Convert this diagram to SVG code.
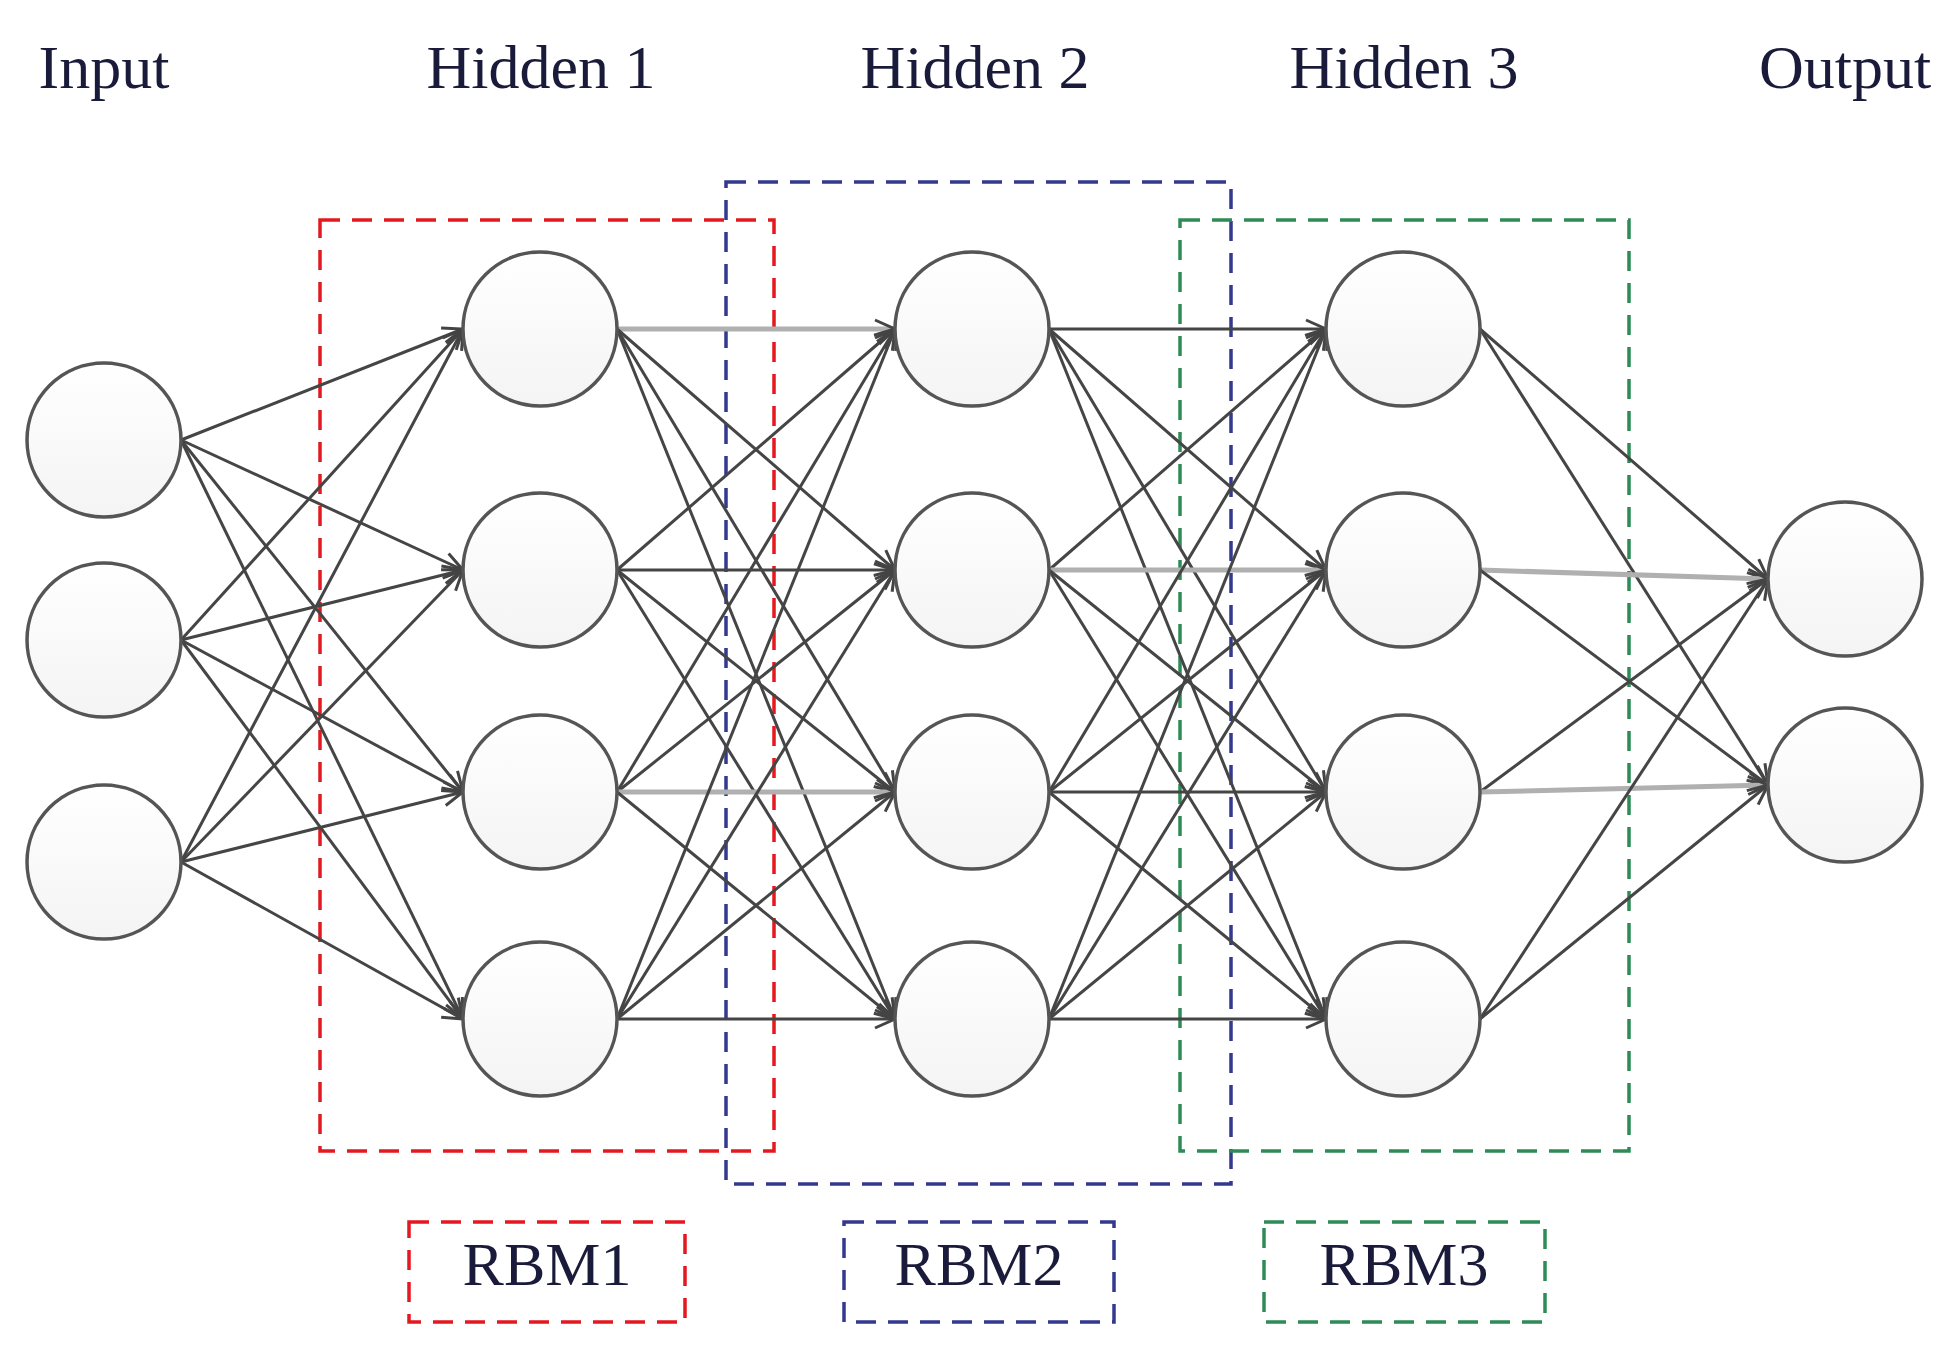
<svg xmlns="http://www.w3.org/2000/svg" width="1959" height="1345" viewBox="0 0 1959 1345">
<defs>
<linearGradient id="g" x1="0" y1="0" x2="0" y2="1"><stop offset="0" stop-color="#ffffff"/><stop offset="1" stop-color="#f4f4f4"/></linearGradient>
<marker id="a" markerUnits="userSpaceOnUse" markerWidth="24" markerHeight="24" viewBox="0 0 24 24" refX="22" refY="12" orient="auto"><path d="M2,3 L22,12 L2,21" fill="none" stroke="#444" stroke-width="3"/></marker>
</defs>
<style>
.n{fill:url(#g);stroke:#555;stroke-width:3.5}
.e{stroke:#454545;stroke-width:3;fill:none;marker-end:url(#a)}
.l{stroke:#b0b0b0;stroke-width:5}
.t{font-family:"Liberation Serif",serif;font-size:62px;fill:#1a1a3a;text-anchor:middle}
.b{fill:none;stroke-width:3.5;stroke-dasharray:20 12}
</style>
<rect width="1959" height="1345" fill="#fff"/>
<g id="labels">
<text class="t" x="104" y="88">Input</text>
<text class="t" x="541" y="88">Hidden 1</text>
<text class="t" x="975" y="88">Hidden 2</text>
<text class="t" x="1404" y="88">Hidden 3</text>
<text class="t" x="1845" y="88">Output</text>
</g>
<g id="rbm-boxes">
<rect class="b" x="320" y="220" width="454" height="931" stroke="#e3191f"/>
<rect class="b" x="726" y="182" width="505" height="1002" stroke="#33398f"/>
<rect class="b" x="1180" y="220" width="449" height="931" stroke="#2e8b57"/>
</g>
<g id="connectors">
<line class="e" x1="181" y1="440" x2="463" y2="329"/>
<line class="e" x1="181" y1="440" x2="463" y2="570"/>
<line class="e" x1="181" y1="440" x2="463" y2="792"/>
<line class="e" x1="181" y1="440" x2="463" y2="1019"/>
<line class="e" x1="181" y1="640" x2="463" y2="329"/>
<line class="e" x1="181" y1="640" x2="463" y2="570"/>
<line class="e" x1="181" y1="640" x2="463" y2="792"/>
<line class="e" x1="181" y1="640" x2="463" y2="1019"/>
<line class="e" x1="181" y1="862" x2="463" y2="329"/>
<line class="e" x1="181" y1="862" x2="463" y2="570"/>
<line class="e" x1="181" y1="862" x2="463" y2="792"/>
<line class="e" x1="181" y1="862" x2="463" y2="1019"/>
<line class="e l" x1="617" y1="329" x2="895" y2="329"/>
<line class="e" x1="617" y1="329" x2="895" y2="570"/>
<line class="e" x1="617" y1="329" x2="895" y2="792"/>
<line class="e" x1="617" y1="329" x2="895" y2="1019"/>
<line class="e" x1="617" y1="570" x2="895" y2="329"/>
<line class="e" x1="617" y1="570" x2="895" y2="570"/>
<line class="e" x1="617" y1="570" x2="895" y2="792"/>
<line class="e" x1="617" y1="570" x2="895" y2="1019"/>
<line class="e" x1="617" y1="792" x2="895" y2="329"/>
<line class="e" x1="617" y1="792" x2="895" y2="570"/>
<line class="e l" x1="617" y1="792" x2="895" y2="792"/>
<line class="e" x1="617" y1="792" x2="895" y2="1019"/>
<line class="e" x1="617" y1="1019" x2="895" y2="329"/>
<line class="e" x1="617" y1="1019" x2="895" y2="570"/>
<line class="e" x1="617" y1="1019" x2="895" y2="792"/>
<line class="e" x1="617" y1="1019" x2="895" y2="1019"/>
<line class="e" x1="1049" y1="329" x2="1326" y2="329"/>
<line class="e" x1="1049" y1="329" x2="1326" y2="570"/>
<line class="e" x1="1049" y1="329" x2="1326" y2="792"/>
<line class="e" x1="1049" y1="329" x2="1326" y2="1019"/>
<line class="e" x1="1049" y1="570" x2="1326" y2="329"/>
<line class="e l" x1="1049" y1="570" x2="1326" y2="570"/>
<line class="e" x1="1049" y1="570" x2="1326" y2="792"/>
<line class="e" x1="1049" y1="570" x2="1326" y2="1019"/>
<line class="e" x1="1049" y1="792" x2="1326" y2="329"/>
<line class="e" x1="1049" y1="792" x2="1326" y2="570"/>
<line class="e" x1="1049" y1="792" x2="1326" y2="792"/>
<line class="e" x1="1049" y1="792" x2="1326" y2="1019"/>
<line class="e" x1="1049" y1="1019" x2="1326" y2="329"/>
<line class="e" x1="1049" y1="1019" x2="1326" y2="570"/>
<line class="e" x1="1049" y1="1019" x2="1326" y2="792"/>
<line class="e" x1="1049" y1="1019" x2="1326" y2="1019"/>
<line class="e" x1="1480" y1="329" x2="1768" y2="579"/>
<line class="e" x1="1480" y1="329" x2="1768" y2="785"/>
<line class="e l" x1="1480" y1="570" x2="1768" y2="579"/>
<line class="e" x1="1480" y1="570" x2="1768" y2="785"/>
<line class="e" x1="1480" y1="792" x2="1768" y2="579"/>
<line class="e l" x1="1480" y1="792" x2="1768" y2="785"/>
<line class="e" x1="1480" y1="1019" x2="1768" y2="579"/>
<line class="e" x1="1480" y1="1019" x2="1768" y2="785"/>
</g>
<g id="in1"><circle class="n" cx="104" cy="440" r="77"/></g>
<g id="in2"><circle class="n" cx="104" cy="640" r="77"/></g>
<g id="in3"><circle class="n" cx="104" cy="862" r="77"/></g>
<g id="h1n1"><circle class="n" cx="540" cy="329" r="77"/></g>
<g id="h1n2"><circle class="n" cx="540" cy="570" r="77"/></g>
<g id="h1n3"><circle class="n" cx="540" cy="792" r="77"/></g>
<g id="h1n4"><circle class="n" cx="540" cy="1019" r="77"/></g>
<g id="h2n1"><circle class="n" cx="972" cy="329" r="77"/></g>
<g id="h2n2"><circle class="n" cx="972" cy="570" r="77"/></g>
<g id="h2n3"><circle class="n" cx="972" cy="792" r="77"/></g>
<g id="h2n4"><circle class="n" cx="972" cy="1019" r="77"/></g>
<g id="h3n1"><circle class="n" cx="1403" cy="329" r="77"/></g>
<g id="h3n2"><circle class="n" cx="1403" cy="570" r="77"/></g>
<g id="h3n3"><circle class="n" cx="1403" cy="792" r="77"/></g>
<g id="h3n4"><circle class="n" cx="1403" cy="1019" r="77"/></g>
<g id="out1"><circle class="n" cx="1845" cy="579" r="77"/></g>
<g id="out2"><circle class="n" cx="1845" cy="785" r="77"/></g>
<g id="rbm1"><rect class="b" x="409" y="1222" width="276" height="100" stroke="#e3191f"/><text class="t" x="547" y="1285">RBM1</text></g>
<g id="rbm2"><rect class="b" x="844" y="1222" width="270" height="100" stroke="#33398f"/><text class="t" x="979" y="1285">RBM2</text></g>
<g id="rbm3"><rect class="b" x="1264" y="1222" width="281" height="100" stroke="#2e8b57"/><text class="t" x="1404" y="1285">RBM3</text></g>
</svg>
